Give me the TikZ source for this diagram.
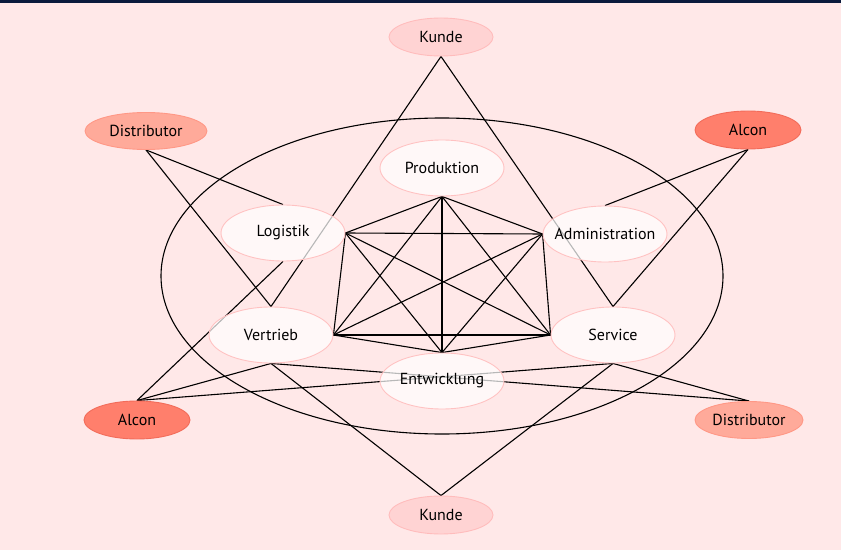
\documentclass[tikz,border=0pt]{standalone}
\usepackage{fontspec}
\setmainfont{PT Sans}
\usetikzlibrary{shapes.geometric}
\pgfdeclarelayer{bglayer}
\pgfdeclarelayer{edgelayer}
\pgfsetlayers{bglayer,edgelayer,main}
\definecolor{bgpink}{HTML}{FFE8E8}
\definecolor{navy}{HTML}{0B1A3C}
\definecolor{kundefill}{HTML}{FFD3D3}
\definecolor{kundedraw}{HTML}{FFBCBC}
\definecolor{distfill}{HTML}{FFAA9A}
\definecolor{distdraw}{HTML}{FF9886}
\definecolor{alconfill}{HTML}{FF7F6C}
\definecolor{alcondraw}{HTML}{F26C5A}
\definecolor{innerdraw}{HTML}{FFC2C2}
\tikzset{
  bubble/.style={ellipse, inner sep=0pt, line width=0.9pt, font=\fontsize{16}{18}\selectfont},
  inner/.style={bubble, draw=innerdraw, fill=white, fill opacity=0.72, text opacity=1, minimum width=124, minimum height=56},
  kunde/.style={bubble, draw=kundedraw, fill=kundefill, minimum width=104, minimum height=38},
  dist/.style={bubble, draw=distdraw, fill=distfill, minimum height=37},
  alcon/.style={bubble, draw=alcondraw, fill=alconfill, minimum width=106, minimum height=38},
  link/.style={line width=1.1pt, black}
}
\begin{document}
\begin{tikzpicture}[x=1pt,y=1pt]
\begin{pgfonlayer}{bglayer}
\fill[bgpink] (0,0) rectangle (841,550);
\fill[navy] (0,547) rectangle (841,550);
\end{pgfonlayer}
\useasboundingbox (0,0) rectangle (841,550);

\node[ellipse, draw, line width=1.1pt, minimum width=562, minimum height=316, inner sep=0pt] (ring) at (442,274) {};

\node[kunde] (kt) at (441,513) {Kunde};
\node[dist, minimum width=122] (dl) at (146,419) {Distributor};
\node[alcon] (ar) at (748,420) {Alcon};
\node[inner] (prod) at (442,382) {Produktion};
\node[inner] (log) at (283,317) {Logistik};
\node[inner] (adm) at (605,316) {\makebox[0pt]{Administration}};
\node[inner] (ver) at (271,215) {Vertrieb};
\node[inner] (ser) at (613,215) {Service};
\node[inner] (ent) at (442,169) {Entwicklung};
\node[alcon] (al) at (137,130) {Alcon};
\node[dist, minimum width=108] (dr) at (749,130) {\makebox[0pt]{Distributor}};
\node[kunde] (kb) at (441,35) {Kunde};

\begin{pgfonlayer}{edgelayer}
% inner complete graph
\draw[link] (prod.south) -- (log.east);
\draw[link] (prod.south) -- (adm.west);
\draw[link] (prod.south) -- (ver.east);
\draw[link] (prod.south) -- (ser.west);
\draw[link] (prod.south) -- (ent.north);
\draw[link] (log.east) -- (adm.west);
\draw[link] (log.east) -- (ver.east);
\draw[link] (log.east) -- (ser.west);
\draw[link] (log.east) -- (ent.north);
\draw[link] (adm.west) -- (ver.east);
\draw[link] (adm.west) -- (ser.west);
\draw[link] (adm.west) -- (ent.north);
\draw[link] (ver.east) -- (ser.west);
\draw[link] (ver.east) -- (ent.north);
\draw[link] (ser.west) -- (ent.north);
% outer links
\draw[link] (kt.south) -- (ver.north);
\draw[link] (kt.south) -- (ser.north);
\draw[link] (dl.south) -- (log.north);
\draw[link] (dl.south) -- (ver.north);
\draw[link] (ar.south) -- (adm.north);
\draw[link] (ar.south) -- (ser.north);
\draw[link] (al.north) -- (log.south);
\draw[link] (al.north) -- (ver.south);
\draw[link] (al.north) -- (ser.south);
\draw[link] (dr.north) -- (ver.south);
\draw[link] (dr.north) -- (ser.south);
\draw[link] (kb.north) -- (ver.south);
\draw[link] (kb.north) -- (ser.south);
\end{pgfonlayer}
\end{tikzpicture}
\end{document}
